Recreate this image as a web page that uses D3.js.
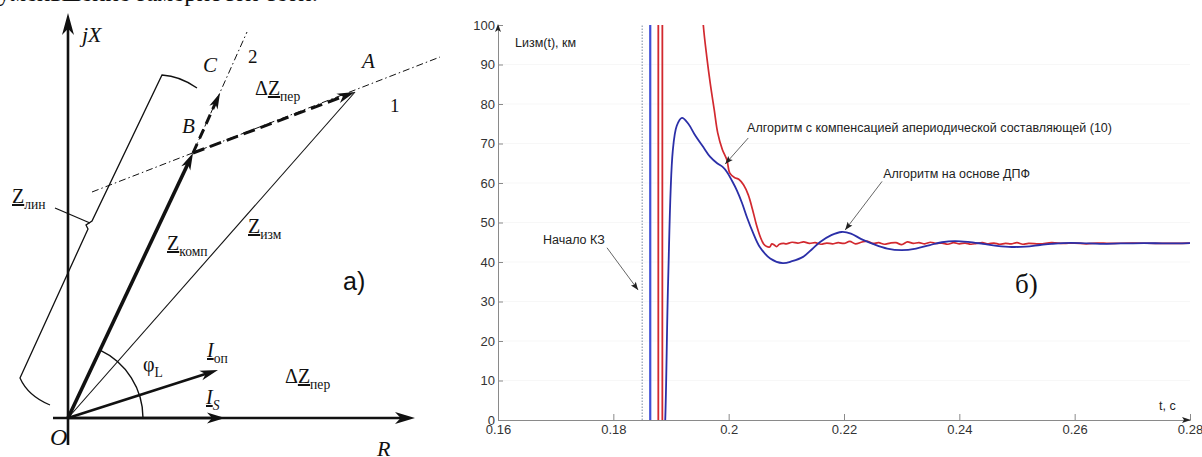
<!DOCTYPE html>
<html>
<head>
<meta charset="utf-8">
<script src="https://cdn.jsdelivr.net/npm/d3@7"></script>
<style>
  body { margin: 0; background: #fff; }
  svg { display: block; }
</style>
</head>
<body>
<svg id="fig" width="1202" height="457"></svg>
<script>
// ---------------- chart data: Lизм(t), км ----------------
const xTicks = [0.16, 0.18, 0.20, 0.22, 0.24, 0.26, 0.28];
const yTicks = [0, 10, 20, 30, 40, 50, 60, 70, 80, 90, 100];
const faultTime = 0.185;                 // начало КЗ
const dftSpikeTimes = [0.1864];          // вертикальный выброс, ДПФ
const compSpikeTimes = [0.1878, 0.1885]; // выбросы, алгоритм с компенсацией

// Алгоритм на основе ДПФ
const dftTime = [0.1886, 0.1890, 0.1895, 0.1903, 0.1910, 0.1919, 0.1930, 0.1941, 0.1956, 0.1968,
  0.1980, 0.1990, 0.1997, 0.2006, 0.2014, 0.2023, 0.2032, 0.2042, 0.2054, 0.2072,
  0.2094, 0.2110, 0.2129, 0.2145, 0.2158, 0.2178, 0.2196, 0.2212, 0.2230, 0.2250,
  0.2275, 0.2300, 0.2325, 0.2349, 0.2370, 0.2392, 0.2415, 0.2441, 0.2465, 0.2491,
  0.2515, 0.2540, 0.2560, 0.2580, 0.2610, 0.2644, 0.2680, 0.2720, 0.2760, 0.2800];
const dftValue = [-12, 0, 35, 68, 74.5, 76.5, 75, 72.3, 69.1, 66.6,
  65, 64, 62.8, 60.5, 58.2, 55, 51.2, 47.5, 43.8, 40.9,
  39.7, 40.2, 41.3, 43.3, 45, 46.8, 47.6, 47.2, 45.8, 44.6,
  43.4, 43, 43.4, 44.3, 45.0, 45.3, 45.1, 44.6, 44.1, 43.8,
  43.9, 44.3, 44.6, 44.8, 44.8, 44.6, 44.7, 44.8, 44.7, 44.8];

// Алгоритм с компенсацией апериодической составляющей (10)
const compTime = [0.1950, 0.1956, 0.1962, 0.1968, 0.1975, 0.1981, 0.1989, 0.1997, 0.2002, 0.2010,
  0.2018, 0.2026, 0.2034, 0.2041, 0.2048, 0.2055, 0.2061, 0.2066, 0.2071, 0.2075,
  0.2079, 0.2083, 0.2088, 0.2095, 0.2100, 0.2110, 0.2120, 0.2130, 0.2140, 0.2150,
  0.2160, 0.2170, 0.2180, 0.2190, 0.2200, 0.2210, 0.2220, 0.2230, 0.2240, 0.2250,
  0.2260, 0.2270, 0.2280, 0.2290, 0.2300, 0.2310, 0.2320, 0.2330, 0.2340, 0.2350,
  0.2360, 0.2370, 0.2380, 0.2390, 0.2400, 0.2410, 0.2420, 0.2430, 0.2440, 0.2450,
  0.2460, 0.2470, 0.2480, 0.2490, 0.2500, 0.2510, 0.2520, 0.2540, 0.2560, 0.2580,
  0.2600, 0.2620, 0.2640, 0.2660, 0.2700, 0.2750, 0.2800];
const compValue = [115, 100, 92, 85.3, 78.5, 72.7, 68.5, 65.8, 62.5, 61.4,
  60.9, 59.5, 57, 53.5, 49.5, 46.3, 44.5, 43.9, 43.8, 44.6,
  44.3, 43.9, 44.5, 44.7, 44.6, 45.0, 44.8, 45.1, 44.7, 44.9,
  44.5, 44.8, 44.6, 44.9, 44.7, 45.2, 44.6, 45.0, 45.3, 44.7,
  44.9, 44.5, 44.8, 44.9, 44.4, 45.1, 44.7, 44.9, 44.6, 45.0,
  44.7, 44.8, 44.5, 44.9, 44.6, 44.8, 44.5, 44.7, 44.9, 44.6,
  44.8, 44.5, 44.7, 44.6, 44.9, 44.5, 44.7, 44.6, 44.9, 44.7,
  44.8, 44.6, 44.8, 44.7, 44.8, 44.7, 44.8];

// ---------------- vector diagram geometry (R, X units) ----------------
const ptA = [287, 326];
const ptB = [125, 265];
const ptC = [152, 325];
const ptIop = [150, 48];
const ptIs = [157, 0];
const line1 = [[24, 226], [372, 361]];
const line2 = [[125, 265], [179, 386]];

const svg = d3.select("#fig");
const ink = "#111";
const serif = "Liberation Serif, Times New Roman, serif";
const sans = "Liberation Sans, Arial, sans-serif";

// Top line of running text (cut by the page edge)
svg.append("text").attr("x", -2).attr("y", 1)
  .attr("font-family", serif).attr("font-size", 25).attr("fill", ink)
  .text("уменьшение замерности сети.");

// ================= Left: vector diagram =================
const dg = svg.append("g");
const rx = d3.scaleLinear().domain([0, 100]).range([68, 168]);
const ry = d3.scaleLinear().domain([0, 100]).range([418, 318]);

function arrowHead(g, x1, y1, x2, y2, L, W) {
  const a = Math.atan2(y2 - y1, x2 - x1) * 180 / Math.PI;
  g.append("path")
    .attr("d", `M0,0L${-L},${-W / 2}L${-L * 0.72},0L${-L},${W / 2}Z`)
    .attr("transform", `translate(${x2},${y2}) rotate(${a})`)
    .attr("fill", ink);
}
function vector(g, x1, y1, x2, y2, opt) {
  const len = Math.hypot(x2 - x1, y2 - y1);
  const k = opt.head ? (len - opt.head[0] * 0.6) / len : 1;
  g.append("line")
    .attr("x1", x1).attr("y1", y1)
    .attr("x2", x1 + (x2 - x1) * k).attr("y2", y1 + (y2 - y1) * k)
    .attr("stroke", ink).attr("stroke-width", opt.w)
    .attr("stroke-dasharray", opt.dash || null);
  if (opt.head) arrowHead(g, x1, y1, x2, y2, opt.head[0], opt.head[1]);
}

const O = [rx(0), ry(0)];

// axes jX and R
vector(dg, O[0], 445, O[0], 13, { w: 2.6, head: [22, 12] });
vector(dg, 53, O[1], 415, O[1], { w: 2.6, head: [20, 12] });

// dash-dot lines 1 and 2
[line1, line2].forEach(l => {
  dg.append("line")
    .attr("x1", rx(l[0][0])).attr("y1", ry(l[0][1]))
    .attr("x2", rx(l[1][0])).attr("y2", ry(l[1][1]))
    .attr("stroke", ink).attr("stroke-width", 1)
    .attr("stroke-dasharray", "7,3,1.5,3");
});

// φL arc
const angB = Math.atan2(ptB[1], ptB[0]);
const arcR = 75;
dg.append("path")
  .attr("d", `M${O[0] + arcR},${O[1]} A${arcR},${arcR} 0 0 0 ${O[0] + arcR * Math.cos(angB)},${O[1] - arcR * Math.sin(angB)}`)
  .attr("fill", "none").attr("stroke", ink).attr("stroke-width", 1.4);

// vectors
vector(dg, O[0], O[1], rx(ptIs[0]), ry(ptIs[1]), { w: 2.6, head: [18, 11] });
vector(dg, O[0], O[1], rx(ptIop[0]), ry(ptIop[1]), { w: 2.6, head: [18, 10] });
vector(dg, O[0], O[1], rx(ptA[0]), ry(ptA[1]), { w: 1.1 });
vector(dg, O[0], O[1], rx(ptB[0]), ry(ptB[1]), { w: 3.6, head: [17, 10] });
vector(dg, rx(ptB[0]), ry(ptB[1]), rx(ptA[0]), ry(ptA[1]), { w: 3, dash: "12,6", head: [18, 10] });
vector(dg, rx(ptB[0]), ry(ptB[1]), rx(ptC[0]), ry(ptC[1]), { w: 3, dash: "10,6", head: [16, 9] });

// Z_лин brace
dg.append("path")
  .attr("d", "M197,88 Q180,76 162,75 L92,221 L86,225 L88,229 L20,378 Q28,396 50,405")
  .attr("fill", "none").attr("stroke", ink).attr("stroke-width", 1.3);
dg.append("line").attr("x1", 55).attr("y1", 208).attr("x2", 90).attr("y2", 223)
  .attr("stroke", ink).attr("stroke-width", 1.2);

function richLabel(g, x, y, parts, size) {
  const t = g.append("text").attr("x", x).attr("y", y)
    .attr("font-family", serif).attr("font-size", size).attr("fill", ink);
  parts.forEach(p => {
    const s = t.append("tspan").text(p.t);
    if (p.i) s.attr("font-style", "italic");
    if (p.u) s.attr("text-decoration", "underline");
    if (p.sub) s.attr("font-size", size * 0.68).attr("dy", size * 0.28);
  });
}
richLabel(dg, 82, 42, [{ t: "jX", i: true }], 22);
richLabel(dg, 203, 72, [{ t: "C", i: true }], 21);
richLabel(dg, 248, 63, [{ t: "2" }], 19);
richLabel(dg, 362, 68, [{ t: "A", i: true }], 21);
richLabel(dg, 390, 112, [{ t: "1" }], 19);
richLabel(dg, 182, 133, [{ t: "B", i: true }], 21);
richLabel(dg, 255, 95, [{ t: "Δ" }, { t: "Z", u: true }, { t: "пер", sub: true }], 20);
richLabel(dg, 12, 203, [{ t: "Z", u: true }, { t: "лин", sub: true }], 20);
richLabel(dg, 167, 250, [{ t: "Z", u: true }, { t: "комп", sub: true }], 20);
richLabel(dg, 248, 233, [{ t: "Z", u: true }, { t: "изм", sub: true }], 20);
richLabel(dg, 143, 371, [{ t: "φ" }, { t: "L", sub: true }], 20);
richLabel(dg, 207, 357, [{ t: "I", i: true, u: true }, { t: "оп", sub: true }], 20);
richLabel(dg, 285, 383, [{ t: "Δ" }, { t: "Z", u: true }, { t: "пер", sub: true }], 20);
richLabel(dg, 206, 404, [{ t: "I", i: true, u: true }, { t: "S", i: true, sub: true }], 20);
richLabel(dg, 50, 445, [{ t: "O", i: true }], 24);
richLabel(dg, 377, 456, [{ t: "R", i: true }], 22);
dg.append("text").attr("x", 343).attr("y", 290)
  .attr("font-family", sans).attr("font-size", 25).attr("fill", ink).text("а)");

// ================= Right: Lизм(t) chart =================
const x = d3.scaleLinear().domain([0.16, 0.28]).range([498, 1190]);
const y = d3.scaleLinear().domain([0, 100]).range([420, 25]);
const cg = svg.append("g");

// faint grid
cg.append("g").selectAll("line").data(yTicks.slice(1, -1)).join("line")
  .attr("x1", x(0.16)).attr("x2", x(0.28))
  .attr("y1", d => y(d)).attr("y2", d => y(d))
  .attr("stroke", "#f7f7f7").attr("stroke-width", 1);

svg.append("defs").append("clipPath").attr("id", "plotClip")
  .append("rect").attr("x", x(0.16)).attr("y", y(100))
  .attr("width", x(0.28) - x(0.16)).attr("height", y(0) - y(100));

const axisColor = "#8a8a8a";
const xAxis = cg.append("g").attr("transform", `translate(0,${y(0)})`)
  .call(d3.axisBottom(x).tickValues(xTicks).tickSize(-6).tickSizeOuter(0).tickPadding(5)
    .tickFormat(d => String(+d.toFixed(2))));
const yAxis = cg.append("g").attr("transform", `translate(${x(0.16)},0)`)
  .call(d3.axisLeft(y).tickValues(yTicks).tickSize(-5).tickSizeOuter(0).tickPadding(3));
[xAxis, yAxis].forEach(a => {
  a.select(".domain").attr("stroke", axisColor);
  a.selectAll(".tick line").attr("stroke", axisColor);
  a.selectAll(".tick text").attr("fill", "#333").attr("font-family", sans).attr("font-size", 13);
});
xAxis.select(".tick line").remove();
// axis arrows
cg.append("path").attr("d", `M${x(0.16)},${y(100) - 1}l-3,8l3,-2l3,2z`).attr("fill", "#222");
cg.append("path").attr("d", `M${x(0.28) + 1},${y(0)}l-9,-3l2,3l-2,3z`).attr("fill", "#222");

cg.append("text").attr("x", 515).attr("y", 47).attr("font-family", sans).attr("font-size", 12.5)
  .attr("fill", "#222").text("Lизм(t), км");
cg.append("text").attr("x", 1159).attr("y", 410).attr("font-family", sans).attr("font-size", 12.5)
  .attr("fill", "#222").text("t, c");
cg.append("text").attr("x", 1015).attr("y", 293).attr("font-family", serif).attr("font-size", 27)
  .attr("fill", ink).text("б)");

const plot = cg.append("g").attr("clip-path", "url(#plotClip)");

// fault start marker
plot.append("line").attr("x1", x(faultTime)).attr("x2", x(faultTime))
  .attr("y1", y(0)).attr("y2", y(100))
  .attr("stroke", "#7a8aa0").attr("stroke-width", 1).attr("stroke-dasharray", "1.5,1.5");

const blue = "#2b2fa8", red = "#d2292f";
plot.selectAll(".dspike").data(dftSpikeTimes).join("line")
  .attr("x1", d => x(d)).attr("x2", d => x(d)).attr("y1", y(-10)).attr("y2", y(110))
  .attr("stroke", "#3f4fd6").attr("stroke-width", 2.2);
plot.selectAll(".cspike").data(compSpikeTimes).join("line")
  .attr("x1", d => x(d)).attr("x2", d => x(d)).attr("y1", y(-10)).attr("y2", y(110))
  .attr("stroke", red).attr("stroke-width", 1.8);

const lineGen = d3.line().x(d => x(d[0])).y(d => y(d[1])).curve(d3.curveCatmullRom.alpha(0.5));
plot.append("path").datum(compTime.map((t, i) => [t, compValue[i]]))
  .attr("d", lineGen).attr("fill", "none").attr("stroke", red).attr("stroke-width", 1.7);
plot.append("path").datum(dftTime.map((t, i) => [t, dftValue[i]]))
  .attr("d", lineGen).attr("fill", "none").attr("stroke", blue).attr("stroke-width", 1.8);

// annotations with leader arrows
const notes = [
  { text: "Алгоритм с компенсацией апериодической составляющей (10)", tx: 0.2032, ty: 73.0, from: [0.2034, 71.4], to: [0.1994, 64.8] },
  { text: "Алгоритм на основе ДПФ", tx: 0.2268, ty: 61.3, from: [0.2266, 60.4], to: [0.2202, 48.1] },
  { text: "Начало КЗ", tx: 0.1678, ty: 44.6, from: [0.1789, 43.6], to: [0.1843, 32.9] }
];
notes.forEach(n => {
  cg.append("text").attr("x", x(n.tx)).attr("y", y(n.ty))
    .attr("font-family", sans).attr("font-size", 12.5).attr("fill", "#222").text(n.text);
  const x1 = x(n.from[0]), y1 = y(n.from[1]), x2 = x(n.to[0]), y2 = y(n.to[1]);
  cg.append("line").attr("x1", x1).attr("y1", y1).attr("x2", x2).attr("y2", y2)
    .attr("stroke", "#555").attr("stroke-width", 0.9);
  const a = Math.atan2(y2 - y1, x2 - x1) * 180 / Math.PI;
  cg.append("path").attr("d", "M0,0L-8,-3L-6.5,0L-8,3Z")
    .attr("transform", `translate(${x2},${y2}) rotate(${a})`).attr("fill", "#222");
});
</script>
</body>
</html>
